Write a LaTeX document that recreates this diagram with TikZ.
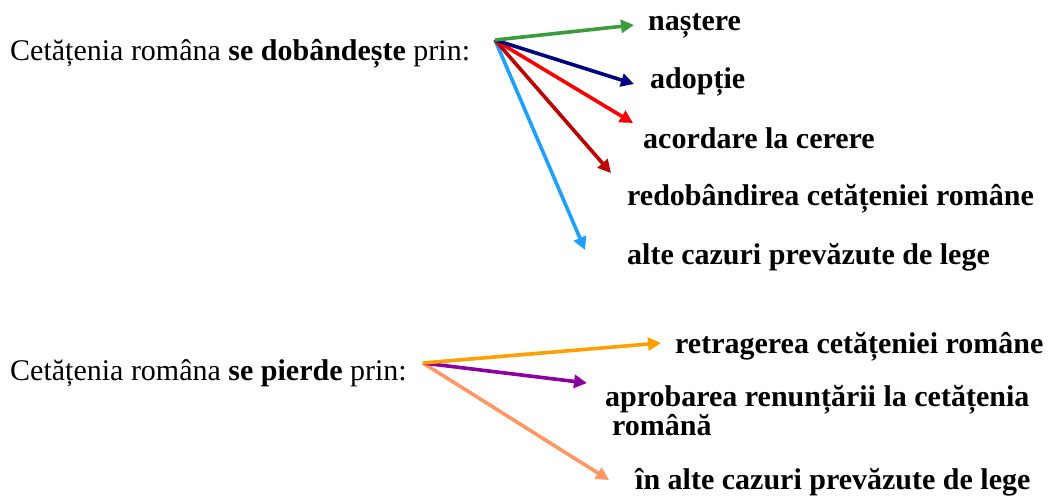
\documentclass[tikz,border=0pt]{standalone}
\usepackage{fontspec}
\setmainfont{Liberation Serif}
\usetikzlibrary{arrows.meta}
\definecolor{nastereg}{RGB}{60,155,60}
\definecolor{adoptien}{RGB}{0,0,128}
\definecolor{cererer}{RGB}{255,0,0}
\definecolor{redobr}{RGB}{190,0,0}
\definecolor{altebl}{RGB}{30,160,255}
\definecolor{retro}{RGB}{255,160,0}
\definecolor{renunp}{RGB}{140,0,160}
\definecolor{altes}{RGB}{255,150,100}
\tikzset{
    txt/.style={inner sep=0pt, font=\fontsize{30}{29}\selectfont},
    opt/.style={txt, font=\fontsize{30}{29}\selectfont\bfseries},
    sag/.style={line width=3.6pt, -{Triangle[length=13pt,width=13pt]}}
}
\begin{document}
\begin{tikzpicture}[x=1pt,y=-1pt]
                \useasboundingbox (0,0) rectangle (1052,497);
                % dobandire
                \node[txt,anchor=base west] (dob) at (10,61) {Cetățenia româna \textbf{se dobândește} prin:};
                \coordinate (o1) at (495,40);
                \node[opt,anchor=base west] (n1) at (648,31) {naștere};
                \node[opt,anchor=base west] (n2) at (650,89) {adopție};
                \node[opt,anchor=base west] (n3) at (643,149) {acordare la cerere};
                \node[opt,anchor=base west] (n4) at (627,206) {redobândirea cetățeniei române};
                \node[opt,anchor=base west] (n5) at (627,265) {alte cazuri prevăzute de lege};
                \coordinate (v1) at (634,25);
                \coordinate (v2) at (634,84);
                \coordinate (v3) at (633,123);
                \coordinate (v4) at (611,173);
                \coordinate (v5) at (585,250);
                \draw[sag,altebl] (o1) -- (v5);
                \draw[sag,redobr] (o1) -- (v4);
                \draw[sag,cererer] (o1) -- (v3);
                \draw[sag,adoptien] (o1) -- (v2);
                \draw[sag,nastereg] (o1) -- (v1);
                % pierdere
                \node[txt,anchor=base west] (pie) at (10,380) {Cetățenia româna \textbf{se pierde} prin:};
                \coordinate (o2) at (423,363);
                \node[opt,anchor=base west] (p1) at (675,353) {retragerea cetățeniei române};
                \node[opt,anchor=base west,align=left] (p2) at (605,435) {aprobarea renunțării la cetățenia\\\hspace*{7pt}română};
                \node[opt,anchor=base west] (p3) at (635,489) {în alte cazuri prevăzute de lege};
                \coordinate (w1) at (661,343);
                \coordinate (w2) at (587,383);
                \coordinate (w3) at (609,480);
                \draw[sag,altes] (o2) -- (w3);
                \draw[sag,renunp] (o2) -- (w2);
                \draw[sag,retro] (o2) -- (w1);
            \end{tikzpicture}
\end{document}
